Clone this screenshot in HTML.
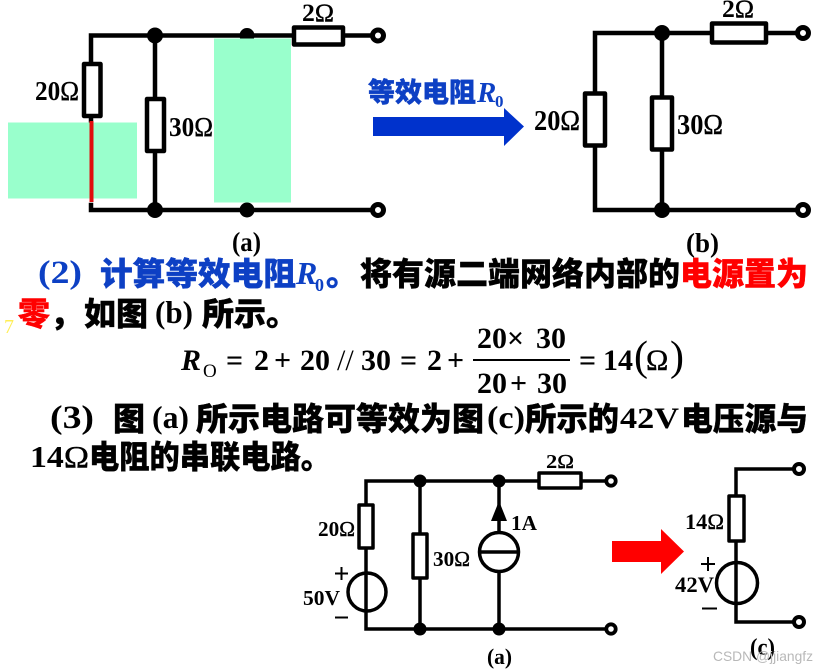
<!DOCTYPE html>
<html><head><meta charset="utf-8">
<style>
html,body{margin:0;padding:0;background:#fff;width:835px;height:672px;overflow:hidden}
svg{display:block}
.s{font-family:"Liberation Serif","Noto Serif CJK SC",serif;font-weight:bold}
.n{font-weight:normal;stroke:#000;stroke-width:.4px}
.c{font-family:"Liberation Sans","Noto Sans CJK SC",sans-serif;font-weight:900;stroke:#000;stroke-width:.4px}
.bl{fill:#0b3fc4;stroke:#0b3fc4}
.bs{fill:#0b3fc4}
.rd{fill:#f00;stroke:#f00}
.w{fill:none;stroke:#000;stroke-linecap:square}
.r{fill:#fff;stroke:#000;stroke-linejoin:round}
.t{fill:#fff;stroke:#000}
</style></head><body>
<svg width="835" height="672" viewBox="0 0 835 672" xmlns="http://www.w3.org/2000/svg">
<defs><filter id="b" x="-2%" y="-2%" width="104%" height="104%"><feGaussianBlur stdDeviation="0.35"/></filter></defs>
<g filter="url(#b)">
<!-- circuit a -->
<g stroke-width="4.5">
<path class="w" d="M91 63V35.500H293M343 35.500H372M155 35.500V98M155 151V210M91 116V124M91 205V210H372"/>
<rect class="r" x="84" y="64" width="16.500" height="52"/>
<rect class="r" x="147" y="99" width="17" height="52"/>
<rect class="r" x="294" y="27.500" width="49" height="17"/>
<circle class="t" cx="378" cy="35.500" r="5.500" stroke-width="5"/><circle class="t" cx="378" cy="210" r="5.500" stroke-width="5"/>
</g>
<circle cx="155" cy="35.500" r="8"/><circle cx="155" cy="210" r="8"/>
<circle cx="247" cy="35.500" r="7.500"/><circle cx="247" cy="210" r="7.500"/>
<rect x="8" y="122.500" width="129" height="76" fill="#99ffcc"/>
<rect x="214" y="38.500" width="77" height="164" fill="#99ffcc"/>
<rect x="89.500" y="121" width="4" height="81" fill="#e01010"/>
<g class="s" font-size="27" fill="#000">
<text x="302" y="21" font-size="25" textLength="32" lengthAdjust="spacingAndGlyphs">2<tspan class="n">Ω</tspan></text>
<text x="35" y="100" textLength="44" lengthAdjust="spacingAndGlyphs">20<tspan class="n">Ω</tspan></text>
<text x="169" y="136" textLength="44" lengthAdjust="spacingAndGlyphs">30<tspan class="n">Ω</tspan></text>
<text x="232" y="251" textLength="29" lengthAdjust="spacingAndGlyphs">(a)</text>
<text x="686" y="252" textLength="33" lengthAdjust="spacingAndGlyphs">(b)</text>
</g>
<!-- label + blue arrow -->
<text class="c bl" x="368" y="102" font-size="27" textLength="108" lengthAdjust="spacingAndGlyphs">等效电阻</text>
<text class="s bs" x="477" y="102" font-size="29" font-style="italic">R</text>
<text class="s bs" x="495" y="107" font-size="17">0</text>
<path d="M373 117H504V108L524 126.500L504 146V136H373Z" fill="#0533cc"/>
<!-- circuit b -->
<g stroke-width="4.500">
<path class="w" d="M595 93V33H711M766 33H797M662 33V97M662 150V210M595 146V210H797"/>
<rect class="r" x="585" y="93.500" width="20" height="52"/>
<rect class="r" x="652" y="97.500" width="20" height="52"/>
<rect class="r" x="712" y="23.500" width="54" height="19"/>
<circle class="t" cx="803" cy="33" r="5.500" stroke-width="5"/><circle class="t" cx="803" cy="210" r="5.500" stroke-width="5"/>
</g>
<circle cx="662" cy="33" r="8"/><circle cx="662" cy="210" r="8"/>
<g class="s" font-size="28">
<text x="722" y="17" font-size="25" textLength="32" lengthAdjust="spacingAndGlyphs">2<tspan class="n">Ω</tspan></text>
<text x="534" y="130" textLength="46" lengthAdjust="spacingAndGlyphs">20<tspan class="n">Ω</tspan></text>
<text x="677" y="134" textLength="46" lengthAdjust="spacingAndGlyphs">30<tspan class="n">Ω</tspan></text>
</g>
<!-- paragraph -->
<text class="s bs" x="38" y="283" font-size="33" textLength="44" lengthAdjust="spacingAndGlyphs">(2)</text>
<text class="c bl" x="100" y="285" font-size="32" textLength="196" lengthAdjust="spacingAndGlyphs">计算等效电阻</text>
<text class="s bs" x="296" y="284" font-size="32" font-style="italic">R</text>
<text class="s bs" x="315" y="291" font-size="18">0</text>
<text class="c bl" x="326" y="285" font-size="32">。</text>
<text class="c" x="360" y="285" font-size="32" textLength="320" lengthAdjust="spacingAndGlyphs">将有源二端网络内部的</text>
<text class="c rd" x="680" y="285" font-size="32" textLength="128" lengthAdjust="spacingAndGlyphs">电源置为</text>
<text class="c rd" x="18" y="325" font-size="32">零</text>
<text class="c" x="50" y="325" font-size="32">，</text>
<text class="c" x="84" y="325" font-size="32" textLength="64" lengthAdjust="spacingAndGlyphs">如图</text>
<text class="s" x="155" y="323" font-size="32" textLength="38" lengthAdjust="spacingAndGlyphs">(b)</text>
<text class="c" x="202" y="325" font-size="32" textLength="96" lengthAdjust="spacingAndGlyphs">所示。</text>
<text x="4" y="333" font-family="Liberation Serif,serif" font-size="20" fill="#ffee55">7</text>
<!-- formula -->
<g class="s" font-size="30">
<text x="181" y="370" font-style="italic">R</text>
<text x="203" y="377" font-size="19" font-weight="normal">O</text>
<text x="226" y="370">=</text>
<text x="254" y="370">2</text>
<text x="274" y="370">+</text>
<text x="300" y="370">20</text>
<text x="337" y="370" font-weight="normal">//</text>
<text x="361" y="370">30</text>
<text x="400" y="370">=</text>
<text x="427" y="370">2</text>
<text x="447" y="370">+</text>
<text x="477" y="348">20</text><text x="507" y="348">×</text><text x="536" y="348">30</text>
<text x="477" y="393">20</text><text x="510" y="393">+</text><text x="537" y="393">30</text>
<text x="579" y="370">=</text>
<text x="603" y="370">14</text>
<text x="634" y="370" font-size="42" font-weight="normal">(</text>
<text x="646" y="370" class="n">Ω</text>
<text x="670" y="370" font-size="42" font-weight="normal">)</text>
</g>
<rect x="473" y="359" width="97" height="2"/>
<!-- line 3 -->
<text class="s" x="50" y="428" font-size="33" textLength="44" lengthAdjust="spacingAndGlyphs">(3)</text>
<text class="c" x="113" y="430" font-size="32">图</text>
<text class="s" x="152" y="428" font-size="32" textLength="37" lengthAdjust="spacingAndGlyphs">(a)</text>
<text class="c" x="196" y="430" font-size="32" textLength="288" lengthAdjust="spacingAndGlyphs">所示电路可等效为图</text>
<text class="s" x="487" y="428" font-size="32" textLength="38" lengthAdjust="spacingAndGlyphs">(c)</text>
<text class="c" x="525" y="430" font-size="32" textLength="94" lengthAdjust="spacingAndGlyphs">所示的</text>
<text class="s" x="620" y="428" font-size="30" textLength="59" lengthAdjust="spacingAndGlyphs">42V</text>
<text class="c" x="681" y="430" font-size="32" textLength="127" lengthAdjust="spacingAndGlyphs">电压源与</text>
<text class="s" x="30" y="467" font-size="31" textLength="59" lengthAdjust="spacingAndGlyphs">14<tspan class="n">Ω</tspan></text>
<text class="c" x="89" y="468" font-size="32" textLength="242" lengthAdjust="spacingAndGlyphs">电阻的串联电路。</text>
<!-- circuit bottom a -->
<g stroke-width="3.500">
<path class="w" d="M366 505V481H538M581 481H606M366 548V629H606M420 481V534M420 578V629M499 481V530M499 572V629"/>
<rect class="r" x="359" y="505" width="14" height="43"/>
<rect class="r" x="413" y="534" width="14" height="44"/>
<rect class="r" x="539" y="473" width="42" height="15"/>
<circle cx="367" cy="592" r="19" fill="none" stroke="#000"/>
<circle cx="499" cy="552" r="19.500" fill="#fff" stroke="#000"/>
<path d="M480 552H518" stroke="#000"/>
<circle class="t" cx="611" cy="481" r="4.700" stroke-width="3.800"/><circle class="t" cx="611" cy="629" r="4.700" stroke-width="3.800"/>
</g>
<path d="M499 501L507 521H491Z"/>
<circle cx="420" cy="481" r="6.500"/><circle cx="499" cy="481" r="6.500"/><circle cx="420" cy="629" r="6.500"/><circle cx="499" cy="629" r="6.500"/>
<g class="s" font-size="21">
<text x="546" y="468" font-size="20" textLength="28" lengthAdjust="spacingAndGlyphs">2<tspan class="n">Ω</tspan></text>
<text x="318" y="536" textLength="37" lengthAdjust="spacingAndGlyphs">20<tspan class="n">Ω</tspan></text>
<text x="433" y="566" textLength="37" lengthAdjust="spacingAndGlyphs">30<tspan class="n">Ω</tspan></text>
<text x="511" y="530" textLength="26" lengthAdjust="spacingAndGlyphs">1A</text>
<text x="303" y="605" textLength="37" lengthAdjust="spacingAndGlyphs">50V</text>
<text x="487" y="664" font-size="22" textLength="25" lengthAdjust="spacingAndGlyphs">(a)</text>
</g>
<path d="M335 573.500H348M341.500 567V580M335 617.500H348" stroke="#000" stroke-width="2"/>
<!-- red arrow -->
<path d="M612 541H661V529L684 551.500L661 574V562H612Z" fill="#f00"/>
<!-- circuit c -->
<g stroke-width="3.500">
<path class="w" d="M736 496V469H793M736 541V622H793"/>
<rect class="r" x="729" y="496" width="15" height="45"/>
<circle cx="737" cy="583" r="20.500" fill="none" stroke="#000"/>
<circle class="t" cx="799" cy="469" r="5" stroke-width="4"/><circle class="t" cx="799" cy="622" r="5" stroke-width="4"/>
</g>
<g class="s" font-size="22">
<text x="685" y="529" textLength="39" lengthAdjust="spacingAndGlyphs">14<tspan class="n">Ω</tspan></text>
<text x="675" y="592" textLength="39" lengthAdjust="spacingAndGlyphs">42V</text>
<text x="750" y="655" font-size="24" textLength="25" lengthAdjust="spacingAndGlyphs">(c)</text>
</g>
<path d="M701 564H715M708 557V571M702 608.500H717" stroke="#000" stroke-width="2"/>
</g>
<text x="713" y="661" font-family="Liberation Sans,sans-serif" font-size="14" fill="#b8b8b8" textLength="100" lengthAdjust="spacingAndGlyphs">CSDN @jjiangfz</text>
</svg>
</body></html>
